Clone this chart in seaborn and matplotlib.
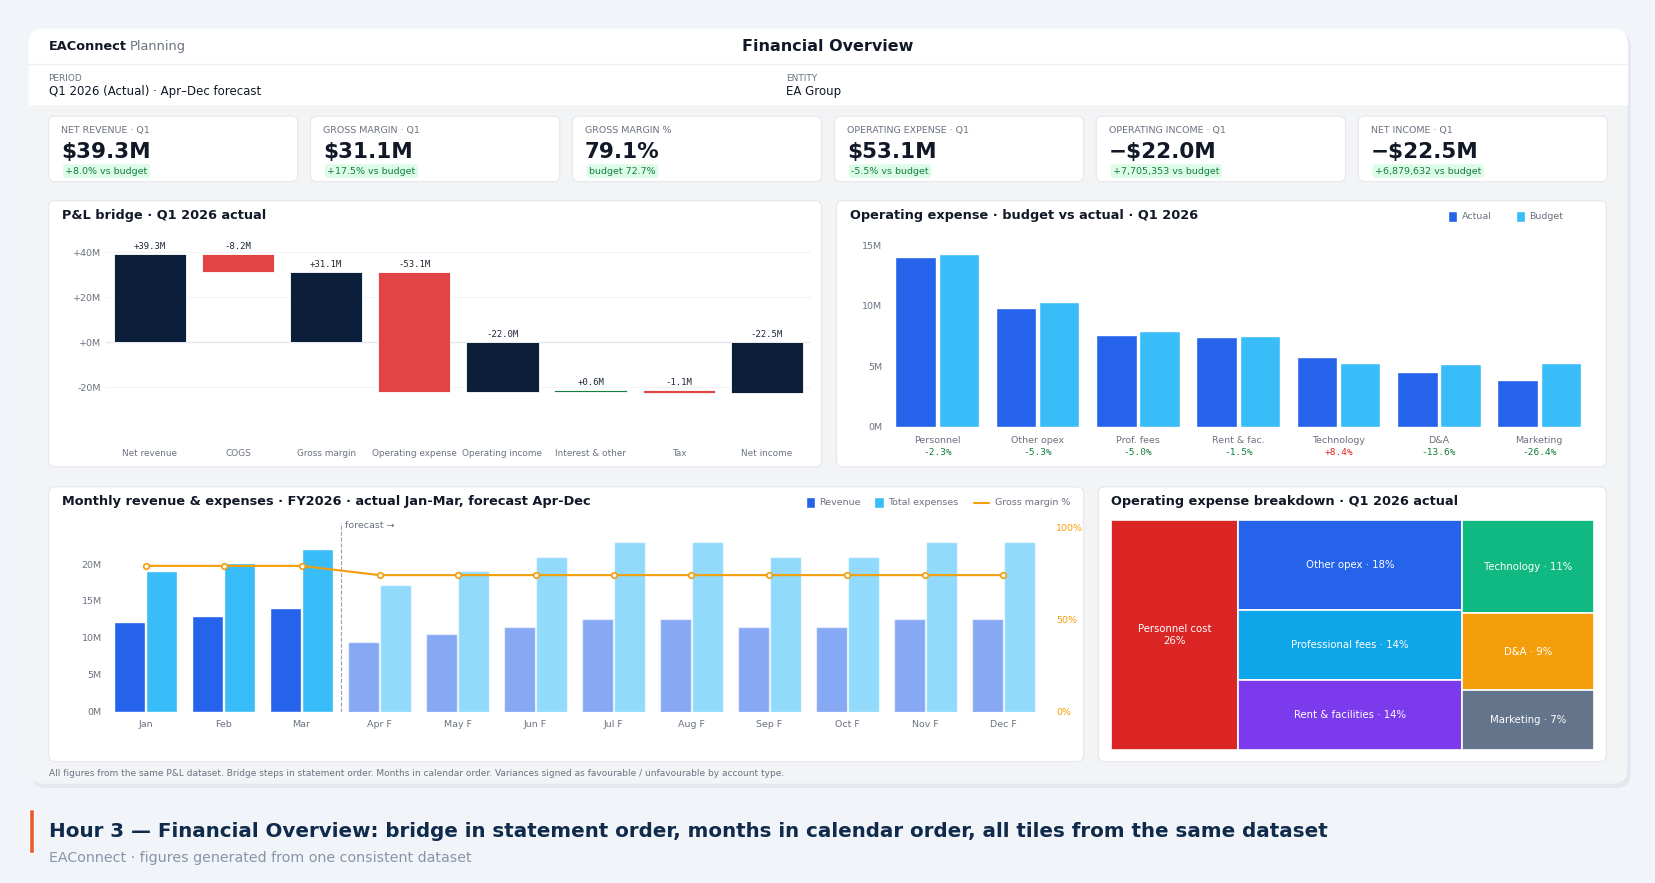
import numpy as np
import pandas as pd
import matplotlib.pyplot as plt
import seaborn as sns
from matplotlib.patches import FancyBboxPatch, Rectangle

# ---- data ----
kpi_labels = ['NET REVENUE · Q1', 'GROSS MARGIN · Q1', 'GROSS MARGIN %', 'OPERATING EXPENSE · Q1', 'OPERATING INCOME · Q1', 'NET INCOME · Q1']
kpi_values = ['$39.3M', '$31.1M', '79.1%', '$53.1M', '\u2212$22.0M', '\u2212$22.5M']
kpi_notes = ['+8.0% vs budget', '+17.5% vs budget', 'budget 72.7%', '-5.5% vs budget', '+7,705,353 vs budget', '+6,879,632 vs budget']

bridge_steps = ['Net revenue', 'COGS', 'Gross margin', 'Operating expense', 'Operating income', 'Interest & other', 'Tax', 'Net income']
bridge_delta = [39.3, -8.2, 31.1, -53.1, -22.0, 0.6, -1.1, -22.5]
bridge_total = [True, False, True, False, True, False, False, True]

opex_cats = ['Personnel', 'Other opex', 'Prof. fees', 'Rent & fac.', 'Technology', 'D&A', 'Marketing']
opex_actual = [14.0, 9.8, 7.6, 7.4, 5.8, 4.5, 3.9]
opex_budget = [14.3, 10.3, 7.9, 7.5, 5.3, 5.2, 5.3]
opex_var = ['-2.3%', '-5.3%', '-5.0%', '-1.5%', '+8.4%', '-13.6%', '-26.4%']

months = ['Jan', 'Feb', 'Mar', 'Apr F', 'May F', 'Jun F', 'Jul F', 'Aug F', 'Sep F', 'Oct F', 'Nov F', 'Dec F']
revenue = [12.1, 13.0, 14.1, 9.5, 10.5, 11.5, 12.5, 12.5, 11.5, 11.5, 12.5, 12.5]
expenses = [19.0, 20.2, 22.0, 17.1, 19.1, 21.0, 23.0, 23.0, 21.0, 21.0, 23.0, 23.0]
gm_pct = [79, 79, 79, 74, 74, 74, 74, 74, 74, 74, 74, 74]
n_actual = 3

tree_labels = ['Personnel cost\n26%', 'Other opex · 18%', 'Professional fees · 14%', 'Rent & facilities · 14%', 'Technology · 11%', 'D&A · 9%', 'Marketing · 7%']
tree_values = [26, 18, 14, 14, 11, 9, 7]
tree_columns = [[0], [1, 2, 3], [4, 5, 6]]
tree_colors = ['#dc2626', '#2563eb', '#0ea5e9', '#7c3aed', '#10b981', '#f59e0b', '#64748b']

# layout space (measured on a 1568-wide view of the reference)
W, H = 1568, 836
sns.set_theme(style='white')
plt.rcParams['font.family'] = ['DejaVu Sans']

fig = plt.figure(figsize=(16.56, 8.83), dpi=100)
fig.patch.set_facecolor('#f1f5fa')
bg = fig.add_axes([0, 0, 1, 1])
bg.set_xlim(0, W); bg.set_ylim(H, 0); bg.axis('off')

def rbox(x0, y0, x1, y1, fc, ec='none', r=8, z=1, lw=0.8):
    bg.add_patch(FancyBboxPatch((x0, y0), x1 - x0, y1 - y0, boxstyle=f'round,pad=0,rounding_size={r}',
                                fc=fc, ec=ec, lw=lw, zorder=z))

def px_axes(x0, y0, x1, y1):
    return fig.add_axes([x0 / W, 1 - y1 / H, (x1 - x0) / W, (y1 - y0) / H])

# main card
rbox(30, 31, 1544, 746, '#e3e8ef', r=14, z=0)
rbox(27, 27, 1541, 742, '#f3f4f6', r=14, z=1)
bg.add_patch(Rectangle((27, 40), 1514, 58, fc='white', zorder=1.5))
rbox(27, 27, 1541, 70, 'white', r=14, z=1.4)
bg.plot([27, 1541], [61, 61], color='#eef0f3', lw=1, zorder=2)
bg.text(46, 44, 'EAConnect', fontsize=9.3, weight='bold', color='#111827', va='center', zorder=3)
bg.text(123, 44, 'Planning', fontsize=9.3, color='#6b7280', va='center', zorder=3)
bg.text(784, 44, 'Financial Overview', fontsize=11.5, weight='bold', color='#111827', va='center', ha='center', zorder=3)
bg.text(46, 74, 'PERIOD', fontsize=6.5, color='#6b7280', va='center', zorder=3)
bg.text(46, 87, 'Q1 2026 (Actual) · Apr–Dec forecast', fontsize=8.5, color='#111827', va='center', zorder=3)
bg.text(744, 74, 'ENTITY', fontsize=6.5, color='#6b7280', va='center', zorder=3)
bg.text(744, 87, 'EA Group', fontsize=8.5, color='#111827', va='center', zorder=3)

# KPI tiles
for i, (lab, val, note) in enumerate(zip(kpi_labels, kpi_values, kpi_notes)):
    x0 = 46 + i * 248
    rbox(x0, 110, x0 + 236, 172, 'white', ec='#e5e7eb', r=6, z=2)
    bg.text(x0 + 12, 124, lab, fontsize=6.8, color='#6b7280', va='center', zorder=3)
    bg.text(x0 + 12, 144, val, fontsize=15.5, weight='bold', color='#111827', va='center', zorder=3)
    bg.text(x0 + 16, 162, note, fontsize=6.8, color='#15803d', va='center', zorder=4,
            bbox=dict(boxstyle='round,pad=0.25,rounding_size=0.3', fc='#dcfce7', ec='none'))

# panel cards
for (x0, y0, x1, y1) in [(46, 190, 778, 442), (792, 190, 1521, 442), (46, 461, 1026, 721), (1040, 461, 1521, 721)]:
    rbox(x0, y0, x1, y1, 'white', ec='#e5e7eb', r=6, z=2)
bg.text(59, 204, 'P&L bridge · Q1 2026 actual', fontsize=9.3, weight='bold', color='#111827', va='center', zorder=3)
bg.text(805, 204, 'Operating expense · budget vs actual · Q1 2026', fontsize=9.3, weight='bold', color='#111827', va='center', zorder=3)
bg.text(59, 475, 'Monthly revenue & expenses · FY2026 · actual Jan-Mar, forecast Apr-Dec', fontsize=9.3, weight='bold', color='#111827', va='center', zorder=3)
bg.text(1052, 475, 'Operating expense breakdown · Q1 2026 actual', fontsize=9.3, weight='bold', color='#111827', va='center', zorder=3)

# legends (drawn in layout space)
def leg_sq(x, y, c, t):
    bg.add_patch(Rectangle((x, y - 5), 9, 10, fc=c, zorder=3))
    bg.text(x + 13, y, t, fontsize=6.8, color='#6b7280', va='center', zorder=3)
leg_sq(1371, 205, '#2563eb', 'Actual')
leg_sq(1435, 205, '#38bdf8', 'Budget')
leg_sq(763, 476, '#2563eb', 'Revenue')
leg_sq(828, 476, '#38bdf8', 'Total expenses')
bg.plot([922, 936], [476, 476], color='#f59e0b', lw=1.5, zorder=3)
bg.text(942, 476, 'Gross margin %', fontsize=6.8, color='#6b7280', va='center', zorder=3)

bg.text(46, 732, 'All figures from the same P&L dataset. Bridge steps in statement order. Months in calendar order. Variances signed as favourable / unfavourable by account type.',
        fontsize=6.5, color='#6b7280', va='center', zorder=3)
bg.add_patch(Rectangle((27, 766), 5, 42, fc='#f05a28', zorder=3))
bg.text(46, 787, 'Hour 3 — Financial Overview: bridge in statement order, months in calendar order, all tiles from the same dataset',
        fontsize=14.3, weight='bold', color='#0f2a4a', va='center', zorder=3)
bg.text(46, 812, 'EAConnect · figures generated from one consistent dataset', fontsize=10.3, color='#8a94a6', va='center', zorder=3)

def style_ax(ax):
    ax.set_facecolor('none')
    for s in ax.spines.values():
        s.set_visible(False)
    ax.tick_params(length=0, labelsize=6.8, colors='#6b7280')

# ---- P&L bridge ----
ax = px_axes(100, 228, 768, 400)
style_ax(ax)
run = 0.0
for i, (d, tot) in enumerate(zip(bridge_delta, bridge_total)):
    if tot:
        bot, h, c = 0, d, '#0b1f3a'
        run = d
    else:
        bot, h = run, d
        c = '#15803d' if d > 0 else '#e04444'
        run = run + d
    ax.bar(i, h, bottom=bot, width=0.82, color=c, edgecolor='white', lw=0.6, zorder=3)
    top = max(bot, bot + h)
    ax.text(i, top + 1.5, f'{d:+.1f}M', ha='center', va='bottom', fontsize=6.5, family='DejaVu Sans Mono', color='#1f2937')
ax.set_xlim(-0.5, 7.5)
ax.set_ylim(-35.8, 45.2)
ax.set_yticks([-20, 0, 20, 40])
ax.set_yticklabels(['-20M', '+0M', '+20M', '+40M'])
ax.set_xticks([])
for v in [-20, 20, 40]:
    ax.axhline(v, color='#f3f4f6', lw=0.8, zorder=0)
ax.axhline(0, color='#e5e7eb', lw=1, zorder=1)
for i, s in enumerate(bridge_steps):
    ax.text(i, -49.5, s, ha='center', va='center', fontsize=6.4, color='#6b7280')

# ---- opex budget vs actual ----
ax = px_axes(840, 215, 1505, 404)
style_ax(ax)
odf = pd.DataFrame({'cat': opex_cats * 2, 'val': opex_actual + opex_budget,
                    'kind': ['Actual'] * 7 + ['Budget'] * 7})
sns.barplot(data=odf, x='cat', y='val', hue='kind', palette=['#2563eb', '#38bdf8'],
            width=0.86, gap=0.06, saturation=1, legend=False, ax=ax)
ax.set_ylim(0, 16.5)
ax.set_xlim(-0.5, 6.5)
ax.set_yticks([0, 5, 10, 15])
ax.set_yticklabels(['0M', '5M', '10M', '15M'])
ax.set_xlabel(''); ax.set_ylabel('')
ax.set_xticks([])
for i, (c, v) in enumerate(zip(opex_cats, opex_var)):
    ax.text(i, -1.1, c, ha='center', va='center', fontsize=6.8, color='#6b7280')
    ax.text(i, -2.1, v, ha='center', va='center', fontsize=6.8, family='DejaVu Sans Mono',
            color='#dc2626' if v.startswith('+') else '#15803d')

# ---- monthly ----
ax = px_axes(101, 495, 987, 674)
style_ax(ax)
x = np.arange(len(months))
for i in x:
    a = 1.0 if i < n_actual else 0.55
    ax.bar(i - 0.205, revenue[i], width=0.4, color='#2563eb', alpha=a, zorder=2)
    ax.bar(i + 0.205, expenses[i], width=0.4, color='#38bdf8', alpha=a, zorder=2)
ax.set_xlim(-0.5, 11.5)
ax.set_ylim(0, 25.57)
ax.set_yticks([0, 5, 10, 15, 20])
ax.set_yticklabels(['0M', '5M', '10M', '15M', '20M'])
ax.set_xticks(x)
ax.set_xticklabels(months)
ax.tick_params(axis='x', pad=6)
ax.axvline(2.5, color='#9ca3af', lw=0.8, ls='--', zorder=1)
ax.text(2.56, 25.2, 'forecast →', fontsize=6.8, color='#6b7280', va='center')
ax2 = ax.twinx()
style_ax(ax2)
sns.lineplot(x=x, y=gm_pct, color='#f59e0b', lw=1.5, marker='o', markersize=4,
             markerfacecolor='white', markeredgecolor='#f59e0b', markeredgewidth=1.2, ax=ax2, zorder=4)
ax2.set_ylim(0, 102.3)
ax2.set_yticks([0, 50, 100])
ax2.set_yticklabels(['0%', '50%', '100%'])
ax2.tick_params(axis='y', colors='#f59e0b', labelsize=6.8, pad=10)
ax2.set_xlim(-0.5, 11.5)

# ---- treemap (column slice layout) ----
ax = px_axes(1052, 492, 1509, 710)
ax.axis('off')
total = sum(tree_values)
cx = 0.0
for col in tree_columns:
    cw = sum(tree_values[k] for k in col) / total
    cy = 1.0
    for k in col:
        hgt = tree_values[k] / sum(tree_values[j] for j in col)
        ax.add_patch(Rectangle((cx, cy - hgt), cw, hgt, fc=tree_colors[k], ec='white', lw=1.2))
        ax.text(cx + cw / 2, cy - hgt / 2, tree_labels[k], ha='center', va='center', fontsize=7.3, color='white')
        cy -= hgt
    cx += cw
ax.set_xlim(0, 1); ax.set_ylim(0, 1)

fig.savefig('out.png', dpi=100, facecolor=fig.get_facecolor())
